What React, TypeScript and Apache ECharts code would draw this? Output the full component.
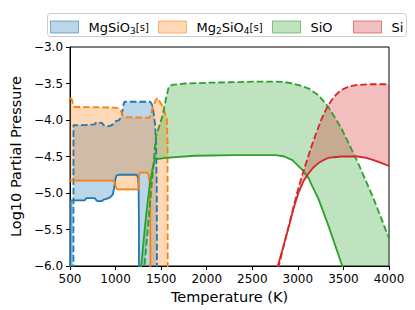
import React, { useEffect, useRef } from 'react';
import * as echarts from 'echarts';

// Axis ticks
const xTicks = [500, 1000, 1500, 2000, 2500, 3000, 3500, 4000];
const yTicks = [-6.0, -5.5, -5.0, -4.5, -4.0, -3.5, -3.0];

const speciesNames = ['MgSiO3[s]', 'Mg2SiO4[s]', 'SiO', 'Si'];
const speciesColors = ['#1f77b4', '#ff7f0e', '#2ca02c', '#d62728'];
const speciesFills = ['rgba(31,119,180,0.3)', 'rgba(255,127,14,0.3)', 'rgba(44,160,44,0.3)', 'rgba(214,39,40,0.3)'];

// [Temperature (K), log10 partial pressure]; -8 means "off the bottom of the plot"
const mgsio3Low: number[][] = [
  [500, -8], [505, -8], [507, -5.10], [660, -5.10], [680, -5.07], [770, -5.07], [790, -5.10], [800, -5.11],
  [850, -5.11], [870, -5.09], [900, -5.08], [940, -5.06], [970, -5.02], [985, -4.92], [1000, -4.80],
  [1010, -4.76], [1040, -4.75], [1230, -4.75], [1245, -4.78], [1252, -4.90], [1256, -5.4], [1258, -8], [1456, -8],
];
const mgsio3High: number[][] = [
  [500, -8], [536, -8], [538, -4.07], [660, -4.07], [770, -4.06], [790, -4.03], [850, -4.04], [870, -4.07],
  [900, -4.09], [940, -4.08], [970, -4.06], [1000, -4.02], [1040, -4.00], [1065, -3.95], [1078, -3.85],
  [1090, -3.77], [1100, -3.75], [1380, -3.75], [1400, -3.79], [1412, -3.86], [1422, -3.95], [1434, -4.07],
  [1445, -4.34], [1452, -5.0], [1456, -8],
];
const mg2sio4Low: number[][] = [
  [500, -4.83], [980, -4.83], [992, -4.86], [1003, -4.92], [1015, -4.95], [1248, -4.95], [1254, -4.90],
  [1258, -4.75], [1265, -4.72], [1345, -4.72], [1362, -4.75], [1372, -4.85], [1380, -5.2], [1386, -8], [1574, -8],
];
const mg2sio4High: number[][] = [
  [500, -3.70], [520, -3.72], [540, -3.82], [980, -3.83], [1040, -3.84], [1060, -3.88], [1075, -3.93],
  [1095, -3.96], [1370, -3.97], [1385, -3.93], [1400, -3.86], [1420, -3.78], [1440, -3.73], [1460, -3.70],
  [1480, -3.74], [1505, -3.79], [1540, -3.89], [1562, -3.98], [1570, -4.3], [1574, -8],
];
const sioLow: number[][] = [
  [1250, -6.4], [1281, -6.0], [1310, -5.62], [1335, -5.3], [1370, -4.93], [1406, -4.66], [1425, -4.56],
  [1434, -4.54], [1550, -4.52], [1870, -4.49], [2300, -4.48], [2762, -4.48], [2850, -4.50], [2940, -4.55],
  [3012, -4.64], [3047, -4.68], [3119, -4.80], [3155, -4.90], [3226, -5.08], [3333, -5.44], [3476, -5.96],
  [3520, -6.12], [4000, -8],
];
const sioHigh: number[][] = [
  [1250, -6.9], [1317, -6.0], [1353, -5.5], [1381, -5.1], [1410, -4.7], [1428, -4.42], [1442, -4.23],
  [1477, -4.09], [1513, -3.95], [1549, -3.73], [1584, -3.54], [1620, -3.52], [1763, -3.50], [2000, -3.49],
  [2500, -3.475], [2762, -3.475], [2850, -3.48], [2940, -3.50], [3030, -3.53], [3119, -3.57], [3226, -3.66],
  [3333, -3.82], [3476, -4.11], [3654, -4.57], [3832, -5.08], [4000, -5.62],
];
const siLow: number[][] = [
  [2700, -6.36], [2780, -6.0], [2850, -5.69], [2905, -5.44], [2960, -5.18], [3012, -4.98], [3060, -4.84],
  [3119, -4.73], [3170, -4.65], [3226, -4.59], [3280, -4.55], [3333, -4.52], [3400, -4.51], [3476, -4.50],
  [3654, -4.50], [3750, -4.52], [3832, -4.55], [3920, -4.59], [4000, -4.63],
];
const siHigh: number[][] = [
  [2700, -6.55], [2790, -6.0], [2850, -5.7], [2900, -5.45], [2950, -5.2], [3000, -4.96], [3047, -4.76],
  [3100, -4.55], [3155, -4.34], [3210, -4.15], [3262, -3.98], [3315, -3.84], [3369, -3.73], [3420, -3.65],
  [3476, -3.59], [3560, -3.54], [3654, -3.52], [3800, -3.51], [4000, -3.51],
];

const lows = [mgsio3Low, mg2sio4Low, sioLow, siLow];
const highs = [mgsio3High, mg2sio4High, sioHigh, siHigh];

const legendLabels = ['MgSiO{sub|3}{st|[s]}', 'Mg{sub|2}SiO{sub|4}{st|[s]}', 'SiO', 'Si'];
const legendLefts = [50, 158, 272, 353];

const FONT = 'DejaVu Sans';

export default function App() {
  const ref = useRef<HTMLDivElement>(null);
  useEffect(() => {
    if (!ref.current) return;
    const chart = echarts.init(ref.current, null, { renderer: 'svg' });

    const bandSeries = speciesNames.map((name, i) => ({
      type: 'custom',
      name,
      clip: true,
      silent: true,
      z: 1,
      coordinateSystem: 'cartesian2d',
      data: [[highs[i][0][0], highs[i][0][1]]],
      encode: { x: 0, y: 1 },
      itemStyle: { color: speciesFills[i] },
      renderItem: (_params: any, api: any) => {
        const pts = highs[i]
          .map((p) => api.coord(p))
          .concat(lows[i].slice().reverse().map((p) => api.coord(p)));
        return {
          type: 'polygon',
          shape: { points: pts },
          style: { fill: speciesFills[i], stroke: 'none' },
        };
      },
    }));

    const lineSeries: any[] = [];
    speciesNames.forEach((name, i) => {
      lineSeries.push({
        type: 'line',
        name: name + ' low',
        data: lows[i],
        symbol: 'none',
        showSymbol: false,
        clip: true,
        silent: true,
        z: 3,
        lineStyle: { color: speciesColors[i], width: 1.8 },
        itemStyle: { color: speciesColors[i] },
        emphasis: { disabled: true },
      });
      lineSeries.push({
        type: 'line',
        name: name + ' high',
        data: highs[i],
        symbol: 'none',
        showSymbol: false,
        clip: true,
        silent: true,
        z: 3,
        lineStyle: { color: speciesColors[i], width: 1.8, type: [6.7, 2.9] },
        itemStyle: { color: speciesColors[i] },
        emphasis: { disabled: true },
      });
    });

    const legends = speciesNames.map((name, i) => ({
      data: [
        {
          name,
          icon: 'rect',
          itemStyle: { color: speciesFills[i], borderColor: speciesFills[i].replace('0.3)', '0.55)'), borderWidth: 1 },
        },
      ],
      left: legendLefts[i],
      top: 19,
      padding: 0,
      itemWidth: 28,
      itemHeight: 12,
      selectedMode: false,
      formatter: () => legendLabels[i],
      textStyle: {
        fontFamily: FONT,
        fontSize: 13,
        color: '#000',
        lineHeight: 16,
        padding: [0, 0, 0, 5],
        rich: {
          sub: { fontFamily: FONT, fontSize: 9, lineHeight: 9, verticalAlign: 'bottom', color: '#000' },
          st: { fontFamily: FONT, fontSize: 10, lineHeight: 16, color: '#000' },
        },
      },
    }));

    chart.setOption({
      animation: false,
      grid: {
        left: 62,
        top: 47,
        width: 327,
        height: 219,
        show: true,
        borderColor: '#000',
        borderWidth: 1,
        backgroundColor: 'transparent',
      },
      graphic: [
        {
          type: 'rect',
          z: 0,
          shape: { x: 47.5, y: 13.5, width: 359, height: 23, r: 3 },
          style: { fill: 'rgba(255,255,255,0.8)', stroke: '#cccccc', lineWidth: 1 },
        },
      ],
      legend: legends,
      xAxis: {
        type: 'value',
        min: xTicks[0],
        max: xTicks[xTicks.length - 1],
        interval: 500,
        name: 'Temperature (K)',
        nameLocation: 'middle',
        nameGap: 23,
        nameTextStyle: { fontFamily: FONT, fontSize: 14.5, color: '#000' },
        axisLine: { show: true, onZero: false, lineStyle: { color: '#000', width: 1 } },
        axisTick: { show: true, inside: false, length: 4, lineStyle: { color: '#000', width: 1 } },
        axisLabel: {
          fontFamily: FONT,
          fontSize: 12,
          color: '#000',
          margin: 7,
          showMinLabel: true,
          showMaxLabel: true,
          formatter: (v: number) => String(v),
        },
        splitLine: { show: false },
      },
      yAxis: {
        type: 'value',
        min: yTicks[0],
        max: yTicks[yTicks.length - 1],
        interval: 0.5,
        name: 'Log10 Partial Pressure',
        nameLocation: 'middle',
        nameGap: 41,
        nameTextStyle: { fontFamily: FONT, fontSize: 14.5, color: '#000' },
        axisLine: { show: true, onZero: false, lineStyle: { color: '#000', width: 1 } },
        axisTick: { show: true, inside: false, length: 4, lineStyle: { color: '#000', width: 1 } },
        axisLabel: {
          fontFamily: FONT,
          fontSize: 12,
          color: '#000',
          margin: 7,
          showMinLabel: true,
          showMaxLabel: true,
          formatter: (v: number) => (v < 0 ? '\u2212' : '') + Math.abs(v).toFixed(1),
        },
        splitLine: { show: false },
      },
      series: [...bandSeries, ...lineSeries],
    });

    return () => chart.dispose();
  }, []);

  return (
    <div
      ref={ref}
      style={{ position: 'fixed', left: 0, top: 0, width: 415, height: 310, background: '#fff' }}
    />
  );
}
